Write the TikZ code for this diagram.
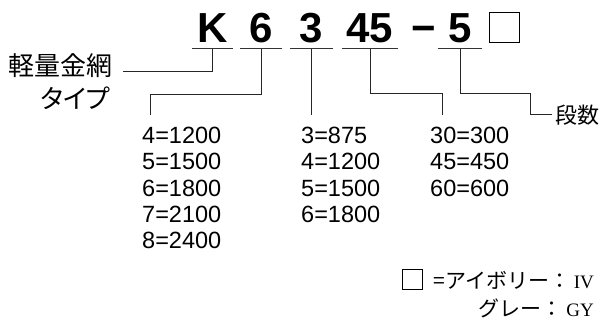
\documentclass[tikz,border=0pt]{standalone}
\usepackage{fontspec}
\setmainfont{Liberation Sans}
\newfontfamily\jpfont{Noto Sans CJK JP}[CharacterWidth=AlternateProportional]
\newfontfamily\jpfull{Noto Sans CJK JP}
\newfontfamily\romanfont{Liberation Serif}
\usepackage{tikz}

\begin{document}
\begin{tikzpicture}
	[x=1pt, y=-1pt,
	code/.style ={anchor=base, font=\fontsize{42}{42}\selectfont\bfseries, text depth=0pt, inner xsep=0pt, inner ysep=6pt, outer sep=0pt},
	uline/.style ={draw=black!80, line width=1pt},
	lead/.style ={draw=black!85, line width=1pt},
	kana/.style ={font=\fontsize{26}{28}\selectfont\jpfont, inner sep=0pt},
	list/.style ={anchor=north west, align=left, inner sep=0pt, font=\fontsize{23.5}{26.3}\selectfont},
	legend/.style ={anchor=east, inner sep=0pt, font=\fontsize{21}{21}\selectfont\jpfull},
	sq/.style ={draw, line width=1pt, inner sep=0pt}]
	\useasboundingbox (0,0) rectangle (600,323);
	\draw (212.5, 43) node[code, minimum width=41pt] (K) {K};
	\draw (261, 43) node[code, minimum width=42pt] (six) {6};
	\draw (311.5, 43) node[code, minimum width=43pt] (three) {3};
	\draw (370, 43) node[code, minimum width=56pt] (ff) {45};
	\draw (423.5, 43) node[code] (dash) {−};
	\draw (460, 43) node[code, minimum width=44pt] (five) {5};
	\draw (504, 28) node[sq, minimum size=30pt] (box) {};
	\draw (113, 66) node[kana, anchor=east] (kind) {軽量金網};
	\draw (110, 98) node[kana, anchor=east] (kind2) {タイプ};
	\draw (552, 115) node[kana, anchor=west, inner xsep=3pt, font=\fontsize{22}{22}\selectfont\jpfont] (dan) {段数};
	\draw (142, 127) node[list] (wid) {4=1200\\5=1500\\6=1800\\7=2100\\8=2400};
	\draw (301, 127) node[list] (dep) {3=875\\4=1200\\5=1500\\6=1800};
	\draw (430, 127) node[list] (hgt) {30=300\\45=450\\60=600};
	\draw (412, 280) node[sq, minimum size=20pt] (legbox) {};
	\draw (594, 280) node[legend] (ivory) {=アイボリー：\,{\romanfont\fontsize{19}{19}\selectfont IV}};
	\draw (594, 308) node[legend] (grey) {グレー：\,{\romanfont\fontsize{19}{19}\selectfont GY}};
	\coordinate (kEnd) at (123, 72);
	\coordinate (aBend) at (150, 95);
	\coordinate (aEnd) at (150, 115);
	\coordinate (bEnd) at (311.5, 115);
	\coordinate (cBend) at (442, 94);
	\coordinate (cEnd) at (442, 115);
	\coordinate (dBend) at (530, 94);
	\draw[uline] (K.south west) -- (K.south east);
	\draw[uline] (six.south west) -- (six.south east);
	\draw[uline] (three.south west) -- (three.south east);
	\draw[uline] (ff.south west) -- (ff.south east);
	\draw[uline] (five.south west) -- (five.south east);
	\draw[lead] (K.south) |- (kEnd);
	\draw[lead] (six.south) |- (aBend) -- (aEnd);
	\draw[lead] (three.south) -- (bEnd);
	\draw[lead] (ff.south) |- (cBend) -- (cEnd);
	\draw[lead] (five.south) |- (dBend) |- (dan.west);
\end{tikzpicture}
\end{document}
